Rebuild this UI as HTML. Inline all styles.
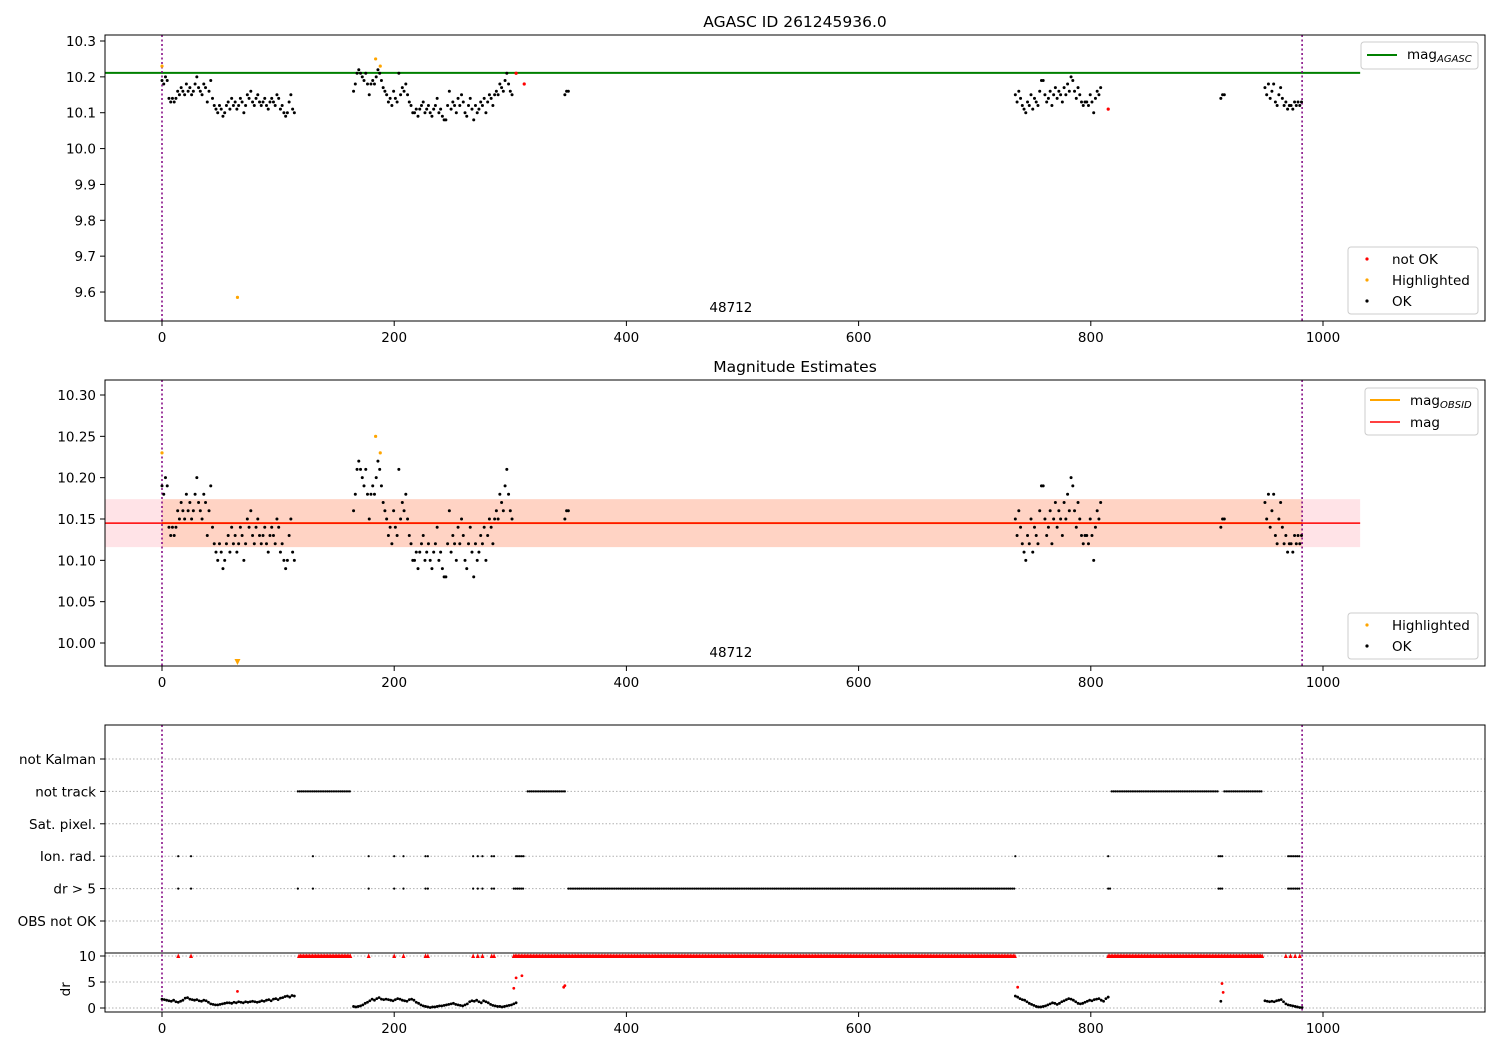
<!DOCTYPE html>
<html><head><meta charset="utf-8"><style>
html,body{margin:0;padding:0;background:#fff;}
svg{display:block;font-family:"DejaVu Sans","Liberation Sans",sans-serif;}
</style></head><body>
<svg id="chart" width="1500" height="1050" viewBox="0 0 1500 1050" xmlns="http://www.w3.org/2000/svg"></svg>
<script>
// ---- data ----
const segStarts = [0, 165, 347, 735, 912, 950];
const magStep = 1.5;
const magA = [10.19,10.18,10.20,10.19,10.14,10.13,10.14,10.13,10.14,10.16,10.15,10.17,10.16,10.15,10.18,10.16,10.17,10.15,10.16,10.18,10.20,10.17,10.16,10.15,10.18,10.17,10.13,10.16,10.19,10.14,10.12,10.11,10.10,10.12,10.11,10.09,10.10,10.12,10.13,10.11,10.14,10.12,10.13,10.11,10.12,10.14,10.13,10.10,10.12,10.15,10.14,10.16,10.13,10.12,10.14,10.15,10.13,10.12,10.13,10.14,10.12,10.11,10.13,10.14,10.13,10.12,10.15,10.14,10.11,10.12,10.10,10.09,10.10,10.13,10.15,10.11,10.10];
const magB = [10.16,10.18,10.21,10.22,10.21,10.20,10.19,10.21,10.18,10.15,10.18,10.19,10.18,10.20,10.22,10.21,10.19,10.17,10.16,10.15,10.13,10.14,10.12,10.16,10.14,10.13,10.21,10.15,10.17,10.16,10.18,10.15,10.13,10.12,10.10,10.10,10.11,10.09,10.11,10.12,10.13,10.10,10.11,10.12,10.10,10.09,10.11,10.12,10.14,10.10,10.11,10.09,10.08,10.08,10.12,10.16,10.11,10.13,10.12,10.10,10.14,10.12,10.15,10.13,10.10,10.09,10.12,10.14,10.11,10.08,10.12,10.10,10.11,10.13,10.12,10.14,10.10,10.13,10.15,10.14,10.12,10.15,10.16,10.15,10.18,10.17,10.16,10.19,10.21,10.18,10.16,10.15];
const magC = [10.15,10.16,10.16];
const magD = [10.15,10.13,10.16,10.14,10.12,10.11,10.10,10.13,10.12,10.15,10.11,10.14,10.13,10.12,10.16,10.19,10.19,10.15,10.13,10.14,10.16,10.12,10.15,10.17,10.14,10.16,10.15,10.13,10.17,10.15,10.18,10.16,10.20,10.19,10.16,10.14,10.17,10.15,10.13,10.12,10.13,10.13,10.12,10.15,10.13,10.10,10.14,10.16,10.15,10.17];
const magE = [10.14,10.15,10.15];
const magF = [10.17,10.15,10.18,10.14,10.16,10.18,10.13,10.12,10.15,10.17,10.14,10.12,10.13,10.11,10.12,10.12,10.11,10.13,10.12,10.13,10.12,10.13];
const notOkT = [305, 312, 815];
const notOkMag = [10.21, 10.18, 10.11];
const hiT = [0, 65, 184, 188];
const hiMag = [10.23, 9.585, 10.25, 10.23];
const magAgasc = 10.211;
const magObs = 10.145;
const magErrLo = 10.116;
const magErrHi = 10.174;
const obsid = "48712";
const obsStart = 0, obsEnd = 982;
// dr
const drStarts = [0, 165, 735, 912, 950];
const drStep = 2;
const drA = [1.7,1.6,1.5,1.4,1.3,1.5,1.2,1.1,1.3,1.5,1.9,2.0,1.7,1.6,1.5,1.6,1.4,1.3,1.5,1.4,1.1,0.8,0.7,0.6,0.6,0.7,0.8,0.9,1.0,1.0,0.9,1.1,1.0,1.2,1.1,1.0,1.2,1.1,1.2,1.3,1.2,1.1,1.2,1.4,1.3,1.5,1.6,1.4,1.7,1.8,1.6,1.9,2.0,2.2,2.3,2.1,2.4,2.3];
const drB = [0.3,0.2,0.3,0.4,0.6,0.9,1.1,1.4,1.7,1.5,1.8,2.0,1.7,1.6,1.7,1.6,1.5,1.4,1.6,1.8,1.7,1.5,1.4,1.3,1.6,1.7,1.5,1.1,0.9,0.6,0.4,0.3,0.2,0.1,0.2,0.2,0.3,0.4,0.4,0.5,0.6,0.7,0.8,0.9,0.7,0.6,0.5,0.4,0.6,0.8,1.2,1.4,1.3,1.5,1.2,1.0,1.4,1.2,1.0,0.7,0.5,0.4,0.3,0.3,0.2,0.3,0.4,0.5,0.6,0.8,1.0];
const drD = [2.3,2.1,1.8,1.6,1.5,1.2,0.9,0.7,0.5,0.3,0.2,0.2,0.3,0.4,0.6,0.8,1.0,0.9,0.7,0.9,1.2,1.4,1.6,1.8,1.7,1.5,1.2,0.9,0.8,0.9,1.1,1.3,1.5,1.4,1.6,1.7,1.8,1.5,1.3,1.8,2.1];
const drE = [1.3];
const drF = [1.4,1.3,1.2,1.3,1.2,1.4,1.5,1.6,1.2,0.8,0.6,0.5,0.4,0.3,0.2,0.1,0.1];
const drRedT = [65, 303, 305, 310, 346, 347, 737, 913, 914];
const drRedV = [3.2, 3.8, 5.8, 6.2, 4.0, 4.3, 4.0, 4.7, 3.0];
const clipRanges = [[118,163],[303,735],[815,948]];
const clipSparse = [14,25,178,200,208,227,229,268,272,276,284,286,968,972,976,980];
const flagLabels = ["not Kalman","not track","Sat. pixel.","Ion. rad.","dr > 5","OBS not OK"];
const notTrackRanges = [[117,163],[315,348],[818,910],[915,948]];
const drGt5Ranges = [[350,735],[303,312],[815,817],[910,914],[970,980]];
const drGt5Sparse = [14,25,117,130,178,200,208,227,229,268,272,276,284,286];
const ionRanges = [[305,312],[910,914],[970,980]];
const ionSparse = [14,25,130,178,200,208,227,229,268,272,276,284,286,735,815];
const xTicks = [0,200,400,600,800,1000];
const y1Ticks = [10.3,10.2,10.1,10.0,9.9,9.8,9.7,9.6];
const y2Ticks = [10.30,10.25,10.20,10.15,10.10,10.05,10.00];
const drTicks = [0,5,10];

// ---- scales ----
const L=105,R=1485;
const X=t=>162+t*1.161;
const Y1=v=>41+(10.3-v)*358.6;
const Y2=v=>395+(10.30-v)*826.7;
const P1={top:35,bot:321}, P2={top:380,bot:666}, P3={top:725,bot:1012,split:953};
const flagY=i=>759+i*32.4;
const Yd=v=>1008-v*5.2;

const svg=document.getElementById('chart');
const NS='http://www.w3.org/2000/svg';
function mk(tag,attrs,parent){const e=document.createElementNS(NS,tag);for(const k in attrs)e.setAttribute(k,attrs[k]);(parent||svg).appendChild(e);return e;}
function txt(s,x,y,anchor,size,parent){const e=mk('text',{x:x,y:y,'text-anchor':anchor||'middle','font-size':size||13.5,fill:'#000'},parent);e.textContent=s;return e;}
function group(name){const g=mk('g',{});return g;}
function expand(starts,step,arrs){const out=[];arrs.forEach((a,i)=>a.forEach((v,j)=>out.push([starts[i]+j*step,v])));return out;}
function rangePts(ranges,sparse,step){const out=[];ranges.forEach(r=>{for(let t=r[0];t<=r[1];t+=step)out.push(t);});(sparse||[]).forEach(t=>out.push(t));return out;}

function xAxis(bot,g){
  xTicks.forEach(t=>{mk('line',{x1:X(t),x2:X(t),y1:bot,y2:bot+5,stroke:'#000','stroke-width':1},g);txt(String(t),X(t),bot+21,'middle',13.5,g);});
}
function frame(top,bot,name){
  const r=mk('rect',{x:L,y:top,width:R-L,height:bot-top,fill:'none',stroke:'#000','stroke-width':1});
  
}
function vlines(top,bot,g){[obsStart,obsEnd].forEach(t=>mk('line',{x1:X(t),x2:X(t),y1:top,y2:bot,stroke:'#800080','stroke-width':1.5,'stroke-dasharray':'2,2.5'},g));}

const okPts=expand(segStarts,magStep,[magA,magB,magC,magD,magE,magF]);

// ---- Panel 1 ----
const g1=group('panel-agasc');
txt('AGASC ID 261245936.0',(L+R)/2,27,'middle',15.5,g1);
mk('line',{x1:L,x2:X(1032),y1:Y1(magAgasc),y2:Y1(magAgasc),stroke:'green','stroke-width':2},g1);
vlines(P1.top,P1.bot,g1);
okPts.forEach(p=>{const c=mk('circle',{cx:X(p[0]),cy:Y1(p[1]),r:1.5,fill:'#000'},g1);});
notOkT.forEach((t,i)=>{const c=mk('circle',{cx:X(t),cy:Y1(notOkMag[i]),r:1.6,fill:'red'},g1);});
hiT.forEach((t,i)=>{const c=mk('circle',{cx:X(t),cy:Y1(hiMag[i]),r:1.6,fill:'orange'},g1);});
txt(obsid,X(490),312,'middle',13.5,g1);
y1Ticks.forEach(v=>{const y=Y1(v);mk('line',{x1:L-5,x2:L,y1:y,y2:y,stroke:'#000'},g1);txt(v.toFixed(1),L-9,y+5,'end',13.5,g1);});
xAxis(P1.bot,g1);
frame(P1.top,P1.bot,'axes-agasc');

// ---- Panel 2 ----
const g2=group('panel-magnitude-estimates');
txt('Magnitude Estimates',(L+R)/2,372,'middle',15.5,g2);
mk('rect',{x:L,y:Y2(magErrHi),width:X(1032)-L,height:Y2(magErrLo)-Y2(magErrHi),fill:'rgba(255,0,40,0.11)'},g2);
mk('rect',{x:X(obsStart),y:Y2(magErrHi),width:X(obsEnd)-X(obsStart),height:Y2(magErrLo)-Y2(magErrHi),fill:'rgba(255,150,60,0.2)'},g2);
mk('line',{x1:X(obsStart),x2:X(obsEnd),y1:Y2(magObs),y2:Y2(magObs),stroke:'orange','stroke-width':2},g2);
mk('line',{x1:L,x2:X(1032),y1:Y2(magObs),y2:Y2(magObs),stroke:'red','stroke-width':1.5},g2);
vlines(P2.top,P2.bot,g2);
okPts.forEach(p=>{const c=mk('circle',{cx:X(p[0]),cy:Y2(p[1]),r:1.5,fill:'#000'},g2);});
hiT.forEach((t,i)=>{
  const y=Y2(hiMag[i]);
  if(y>P2.bot){const x=X(t);const p=mk('polygon',{points:`${x-3},${P2.bot-7} ${x+3},${P2.bot-7} ${x},${P2.bot-1}`,fill:'orange'},g2);}
  else{const c=mk('circle',{cx:X(t),cy:y,r:1.6,fill:'orange'},g2);}
});
txt(obsid,X(490),657,'middle',13.5,g2);
y2Ticks.forEach(v=>{const y=Y2(v);mk('line',{x1:L-5,x2:L,y1:y,y2:y,stroke:'#000'},g2);txt(v.toFixed(2),L-9,y+5,'end',13.5,g2);});
xAxis(P2.bot,g2);
frame(P2.top,P2.bot,'axes-magnitude');

// ---- Panel 3 ----
const g3=group('panel-flags');
flagLabels.forEach((s,i)=>{const y=flagY(i);mk('line',{x1:L,x2:R,y1:y,y2:y,stroke:'#b0b0b0','stroke-dasharray':'1.5,2'},g3);mk('line',{x1:L-5,x2:L,y1:y,y2:y,stroke:'#000'},g3);txt(s,L-9,y+5,'end',13.5,g3);});
drTicks.forEach(v=>{const y=Yd(v);mk('line',{x1:L,x2:R,y1:y,y2:y,stroke:'#b0b0b0','stroke-dasharray':'1.5,2'},g3);mk('line',{x1:L-5,x2:L,y1:y,y2:y,stroke:'#000'},g3);txt(String(v),L-9,y+5,'end',13.5,g3);});
const dl=txt('dr',70,Yd(3.6),'middle',13.5,g3);dl.setAttribute('transform',`rotate(-90 70 ${Yd(3.6)})`);
mk('line',{x1:L,x2:R,y1:P3.split,y2:P3.split,stroke:'#000'},g3);
vlines(P3.top,P3.bot,g3);
function flagRow(i,ranges,sparse,name){rangePts(ranges,sparse,1.6).forEach(t=>{const c=mk('circle',{cx:X(t),cy:flagY(i),r:1.1,fill:'#000'},g3);});}
flagRow(1,notTrackRanges,[],'not-track-flag');
flagRow(3,ionRanges,ionSparse,'ion-rad-flag');
flagRow(4,drGt5Ranges,drGt5Sparse,'dr-gt5-flag');
expand(drStarts,drStep,[drA,drB,drD,drE,drF]).forEach(p=>{const c=mk('circle',{cx:X(p[0]),cy:Yd(p[1]),r:1.4,fill:'#000'},g3);});
drRedT.forEach((t,i)=>{const c=mk('circle',{cx:X(t),cy:Yd(drRedV[i]),r:1.4,fill:'red'},g3);});
rangePts(clipRanges,clipSparse,1.3).forEach(t=>{const x=X(t),y=Yd(10);const p=mk('polygon',{points:`${x-2},${y+2} ${x+2},${y+2} ${x},${y-2.5}`,fill:'red'},g3);});
xAxis(P3.bot,g3);
frame(P3.top,P3.bot,'axes-flags');

// ---- legends ----
function legendBox(x,y,w,h,name){const r=mk('rect',{x:x,y:y,width:w,height:h,rx:3,fill:'#fff','fill-opacity':0.85,stroke:'#ccc'});}
function subLabel(main,sub,x,y,name){const t=mk('text',{x:x,y:y,'font-size':13.5,fill:'#000'});t.textContent=main;const s=mk('tspan',{'font-size':10,'font-style':'italic',dy:3},t);s.textContent=sub;}
legendBox(1361,42,117,27,'legend-agasc');
mk('line',{x1:1367,x2:1397,y1:55,y2:55,stroke:'green','stroke-width':2});
subLabel('mag','AGASC',1407,59,'legend-entry-mag-agasc');
legendBox(1348,247,130,67,'legend-status-1');
[['red','not OK',259],['orange','Highlighted',280],['#000','OK',301]].forEach(e=>{mk('circle',{cx:1367,cy:e[2],r:1.6,fill:e[0]});const t=txt(e[1],1392,e[2]+5,'start',13.5);});
legendBox(1365,388,113,47,'legend-mag');
mk('line',{x1:1370,x2:1400,y1:400,y2:400,stroke:'orange','stroke-width':2});
subLabel('mag','OBSID',1410,405,'legend-entry-mag-obsid');
mk('line',{x1:1370,x2:1400,y1:422,y2:422,stroke:'red','stroke-width':1.5});
txt('mag',1410,427,'start',13.5);
legendBox(1348,613,130,46,'legend-status-2');
[['orange','Highlighted',625],['#000','OK',646]].forEach(e=>{mk('circle',{cx:1367,cy:e[2],r:1.6,fill:e[0]});const t=txt(e[1],1392,e[2]+5,'start',13.5);});
</script>
</body></html>
